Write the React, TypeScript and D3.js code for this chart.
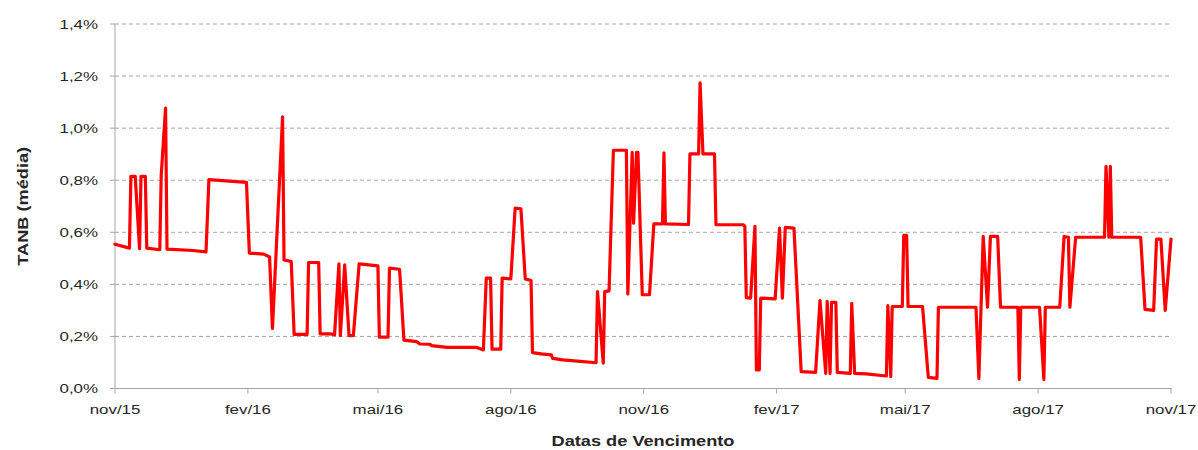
import React from "react";
import * as d3 from "d3";

const dates: string[] = [
  "2015-11-01","2015-11-11","2015-11-12","2015-11-15","2015-11-18","2015-11-19","2015-11-22","2015-11-23",
  "2015-12-02","2015-12-03","2015-12-06","2015-12-07","2015-12-25","2016-01-03","2016-01-05","2016-01-31",
  "2016-02-02","2016-02-12","2016-02-16","2016-02-18","2016-02-25","2016-02-26","2016-03-02","2016-03-04",
  "2016-03-13","2016-03-14","2016-03-21","2016-03-22","2016-03-29","2016-04-01","2016-04-04","2016-04-05",
  "2016-04-08","2016-04-11","2016-04-14","2016-04-18","2016-05-01","2016-05-02","2016-05-08","2016-05-09",
  "2016-05-16","2016-05-19","2016-05-28","2016-05-30","2016-06-06","2016-06-07","2016-06-18","2016-07-08",
  "2016-07-13","2016-07-15","2016-07-18","2016-07-19","2016-07-25","2016-07-26","2016-08-01","2016-08-04",
  "2016-08-08","2016-08-11","2016-08-15","2016-08-16","2016-08-22","2016-08-29","2016-08-30","2016-09-06",
  "2016-09-14","2016-09-29","2016-09-30","2016-10-04","2016-10-05","2016-10-08","2016-10-11","2016-10-20",
  "2016-10-21","2016-10-24","2016-10-25","2016-10-27","2016-10-28","2016-10-31","2016-11-05","2016-11-08",
  "2016-11-14","2016-11-15","2016-11-16","2016-12-02","2016-12-03","2016-12-09","2016-12-10","2016-12-12",
  "2016-12-20","2016-12-21","2017-01-09","2017-01-10","2017-01-11","2017-01-14","2017-01-17","2017-01-18",
  "2017-01-20","2017-01-21","2017-01-31","2017-02-03","2017-02-05","2017-02-07","2017-02-13","2017-02-18",
  "2017-02-28","2017-03-03","2017-03-07","2017-03-08","2017-03-10","2017-03-11","2017-03-14","2017-03-15",
  "2017-03-24","2017-03-25","2017-03-27","2017-04-04","2017-04-18","2017-04-19","2017-04-21","2017-04-22",
  "2017-04-29","2017-04-30","2017-05-02","2017-05-03","2017-05-13","2017-05-17","2017-05-23","2017-05-24",
  "2017-06-19","2017-06-21","2017-06-24","2017-06-27","2017-06-29","2017-07-04","2017-07-06","2017-07-18",
  "2017-07-19","2017-07-20","2017-08-02","2017-08-05","2017-08-06","2017-08-16","2017-08-19","2017-08-22",
  "2017-08-23","2017-08-27","2017-09-16","2017-09-17","2017-09-19","2017-09-20","2017-09-21","2017-10-11",
  "2017-10-14","2017-10-20","2017-10-22","2017-10-25","2017-10-28","2017-11-01",
];

const tanb: number[] = [
  0.554,0.539,0.815,0.815,0.537,0.815,0.815,0.539,
  0.533,0.82,1.077,0.535,0.530,0.525,0.802,0.792,
  0.520,0.516,0.505,0.231,1.043,0.494,0.488,0.208,
  0.208,0.484,0.484,0.210,0.210,0.207,0.479,0.203,
  0.475,0.203,0.203,0.479,0.471,0.197,0.197,0.462,
  0.458,0.186,0.180,0.171,0.170,0.165,0.158,0.158,
  0.148,0.424,0.424,0.151,0.151,0.424,0.421,0.693,
  0.690,0.421,0.415,0.138,0.133,0.129,0.116,0.110,
  0.106,0.099,0.372,0.097,0.372,0.375,0.915,0.915,
  0.363,0.907,0.635,0.907,0.907,0.360,0.360,0.632,
  0.632,0.905,0.632,0.630,0.901,0.901,1.174,0.901,
  0.901,0.629,0.629,0.623,0.349,0.347,0.623,0.071,
  0.071,0.347,0.344,0.616,0.347,0.619,0.616,0.065,
  0.062,0.338,0.058,0.335,0.058,0.331,0.331,0.062,
  0.058,0.327,0.058,0.056,0.048,0.318,0.046,0.315,
  0.315,0.588,0.588,0.315,0.315,0.043,0.039,0.312,
  0.312,0.039,0.584,0.312,0.584,0.584,0.312,0.312,
  0.035,0.312,0.312,0.035,0.312,0.312,0.584,0.581,
  0.312,0.581,0.581,0.853,0.581,0.853,0.581,0.581,
  0.304,0.300,0.574,0.574,0.300,0.574,
];

const yTicks: number[] = [0, 0.2, 0.4, 0.6, 0.8, 1.0, 1.2, 1.4];
const xTickDates: string[] = [
  "2015-11-01","2016-02-01","2016-05-01","2016-08-01","2016-11-01",
  "2017-02-01","2017-05-01","2017-08-01","2017-11-01",
];
const xTickLabels: string[] = ["nov/15","fev/16","mai/16","ago/16","nov/16","fev/17","mai/17","ago/17","nov/17"];

const W = 1198;
const H = 450;
const left = 115;
const right = 1171;
const top = 24;
const bottom = 388.5;
const FONT = "'Liberation Sans', Arial, sans-serif";
const STRETCH = 1.3;

export default function App() {
  const parse = d3.timeParse("%Y-%m-%d");
  const x = d3
    .scaleTime()
    .domain([parse("2015-11-01") as Date, parse("2017-11-01") as Date])
    .range([left, right]);
  const y = d3.scaleLinear().domain([0, 1.4]).range([bottom, top]);

  const data = dates.map((d, i) => ({ date: parse(d) as Date, v: tanb[i] }));
  const line = d3
    .line<{ date: Date; v: number }>()
    .x((d) => x(d.date))
    .y((d) => y(d.v));

  const fmt = (v: number) => v.toFixed(1).replace(".", ",") + "%";

  return (
    <svg
      width={W}
      height={H}
      style={{ position: "absolute", left: 0, top: 0, background: "#fff" }}
      fontFamily={FONT}
    >
      {yTicks.map((t) =>
        t > 0 ? (
          <line
            key={"g" + t}
            x1={left}
            x2={right + 1}
            y1={y(t)}
            y2={y(t)}
            stroke="#a6a6a6"
            strokeWidth={1}
            strokeDasharray="4,3"
          />
        ) : null
      )}
      <line x1={left} x2={left} y1={top} y2={bottom} stroke="#a6a6a6" strokeWidth={1} />
      {yTicks.map((t) => (
        <g key={"y" + t}>
          <line x1={left - 5} x2={left} y1={y(t)} y2={y(t)} stroke="#a6a6a6" strokeWidth={1} />
          <text
            transform={`translate(98, ${y(t)}) scale(${STRETCH}, 1)`}
            dy="0.35em"
            textAnchor="end"
            fontSize={13}
            fill="#262626"
          >
            {fmt(t)}
          </text>
        </g>
      ))}
      <line x1={left} x2={right + 1} y1={bottom} y2={bottom} stroke="#a6a6a6" strokeWidth={1} />
      {xTickDates.map((d, i) => {
        const px = x(parse(d) as Date);
        return (
          <g key={"x" + d}>
            <line x1={px} x2={px} y1={bottom} y2={bottom + 5} stroke="#a6a6a6" strokeWidth={1} />
            <text
              transform={`translate(${px}, 414) scale(${STRETCH}, 1)`}
              textAnchor="middle"
              fontSize={13}
              fill="#262626"
            >
              {xTickLabels[i]}
            </text>
          </g>
        );
      })}
      <path
        d={line(data) || ""}
        fill="none"
        stroke="#ff0000"
        strokeWidth={3.2}
        strokeLinejoin="round"
        strokeLinecap="round"
      />
      <text
        transform={`translate(${(left + right) / 2}, 446) scale(${STRETCH}, 1)`}
        textAnchor="middle"
        fontSize={14}
        fontWeight="bold"
        fill="#262626"
      >
        Datas de Vencimento
      </text>
      <text
        transform={`translate(28, ${(top + bottom) / 2}) rotate(-90) scale(${STRETCH}, 1)`}
        textAnchor="middle"
        fontSize={14}
        fontWeight="bold"
        fill="#262626"
      >
        TANB (média)
      </text>
    </svg>
  );
}
